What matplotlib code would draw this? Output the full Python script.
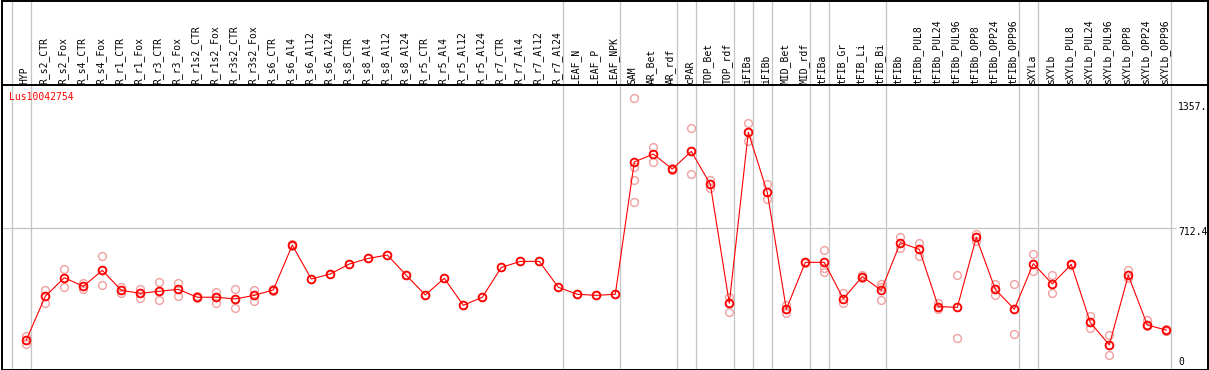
import matplotlib
matplotlib.use("Agg")
import matplotlib.pyplot as plt

# data
gene = "Lus10042754"
samples = ["HYP", "R_s2_CTR", "R_s2_Fox", "R_s4_CTR", "R_s4_Fox", "R_r1_CTR", "R_r1_Fox",
           "R_r3_CTR", "R_r3_Fox", "R_r1s2_CTR", "R_r1s2_Fox", "R_r3s2_CTR", "R_r3s2_Fox",
           "R_s6_CTR", "R_s6_Al4", "R_s6_Al12", "R_s6_Al24", "R_s8_CTR", "R_s8_Al4",
           "R_s8_Al12", "R_s8_Al24", "R_r5_CTR", "R_r5_Al4", "R_r5_Al12", "R_r5_Al24",
           "R_r7_CTR", "R_r7_Al4", "R_r7_Al12", "R_r7_Al24", "LEAF_N", "LEAF_P", "LEAF_NPK",
           "SAM", "AR_Bet", "AR_rdf", "cPAR", "TOP_Bet", "TOP_rdf", "iFIBa", "iFIBb",
           "MID_Bet", "MID_rdf", "tFIBa", "tFIB_Gr", "tFIB_Li", "tFIB_Bi", "tFIBb",
           "tFIBb_PUL8", "tFIBb_PUL24", "tFIBb_PUL96", "tFIBb_OPP8", "tFIBb_OPP24",
           "tFIBb_OPP96", "sXYLa", "sXYLb", "sXYLb_PUL8", "sXYLb_PUL24", "sXYLb_PUL96",
           "sXYLb_OPP8", "sXYLb_OPP24", "sXYLb_OPP96"]
group_sizes = [1, 28, 3, 3, 1, 2, 1, 1, 2, 1, 3, 7, 1, 7]

means = [117, 350, 449, 403, 488, 382, 366, 377, 387, 345, 345, 336, 355,
         384, 623, 442, 469, 522, 552, 570, 462, 357, 446, 302, 345,
         504, 536, 536, 398, 361, 355, 361,
         1066, 1108, 1028, 1122, 947, 313, 1224, 904, 281, 531, 531,
         337, 455, 382, 636, 600, 295, 291, 664, 387, 281,
         524, 416, 520, 211, 91, 462, 197, 170]

reps = [[138, 117, 96], [384, 350, 313], [494, 449, 401], [419, 403, 387],
        [563, 488, 409], [401, 382, 366], [389, 366, 343], [426, 377, 329],
        [421, 387, 350], [350, 345, 340], [373, 345, 316], [389, 336, 286],
        [385, 355, 327], [388, 384, 380], [626, 623, 620],
        [442], [469], [522], [552], [570], [462], [357], [446], [302], [345],
        [504], [536], [536], [398], [361], [355], [361],
        [1405, 1037, 970, 851], [1144, 1108, 1067], [1032, 1028, 1024],
        [1245, 1122, 1000], [970, 947, 925], [348, 313, 268],
        [1275, 1224, 1179], [947, 904, 867], [304, 281, 263], [535, 531, 527],
        [595, 499, 481], [369, 337, 316], [465, 455, 445], [416, 400, 329],
        [668, 636, 606], [632, 600, 566], [316, 295, 280], [462, 291, 126],
        [682, 664, 646], [414, 387, 357], [414, 281, 148],
        [575, 524, 486], [462, 416, 366], [524, 520, 516], [245, 211, 179],
        [142, 91, 36], [490, 462, 450], [224, 197, 190], [174, 170, 166]]

axis_marks = [(1357, "1357."), (712.4, "712.4"), (0, "0")]

# pixel layout helpers
W, H = 1209, 370
def px_x(p):
    return (p - 26.3) / 19.0
def px_y(q):
    return (362.0 - q) / 0.1877

fig = plt.figure(figsize=(W / 100, H / 100), dpi=100)
ax = fig.add_axes([1.5 / W, 0.5 / H, 1206 / W, 369 / H])
ax.set_xlim(px_x(1.5), px_x(1207.5))
ax.set_ylim(px_y(369.5), px_y(0.5))
ax.set_xticks([])
ax.set_yticks([])
for s in ax.spines.values():
    s.set_linewidth(1.4)
    s.set_color("black")

# separators
b = -1
ax.axvline(b + 4.4 / 19, color="#c4c4c4", lw=0.9, zorder=1)
for g in group_sizes:
    b += g
    ax.axvline(b + 4.4 / 19, color="#c4c4c4", lw=0.9, zorder=1)
ax.hlines(712.4, px_x(1.5), px_x(1176), color="#c4c4c4", lw=0.9, zorder=1)
ax.axhline(px_y(85), color="black", lw=1.4, zorder=2)

for i, name in enumerate(samples):
    ax.text(i - 0.08, px_y(83.5), name, rotation=90, ha="center", va="bottom",
            fontsize=7, family="DejaVu Sans Mono")

ax.text(px_x(9), px_y(97), gene, color="red", fontsize=7, family="DejaVu Sans Mono",
        ha="left", va="center")
ypos = {"1357.": 107, "712.4": 232, "0": 362}
for v, lab in axis_marks:
    ax.text(px_x(1178), px_y(ypos[lab]), lab, fontsize=7, family="DejaVu Sans Mono",
            ha="left", va="center")

x = list(range(len(samples)))
for i, r in enumerate(reps):
    ax.plot([i] * len(r), r, ls="none", marker="o", ms=5.6, mfc="none",
            mec="#f0a0a0", mew=1.0, zorder=3)
ax.plot(x, means, color="red", lw=0.8, zorder=4)
ax.plot(x, means, ls="none", marker="o", ms=5.6, mfc="none", mec="red",
        mew=1.3, zorder=5)

fig.savefig("out.png", dpi=100)
